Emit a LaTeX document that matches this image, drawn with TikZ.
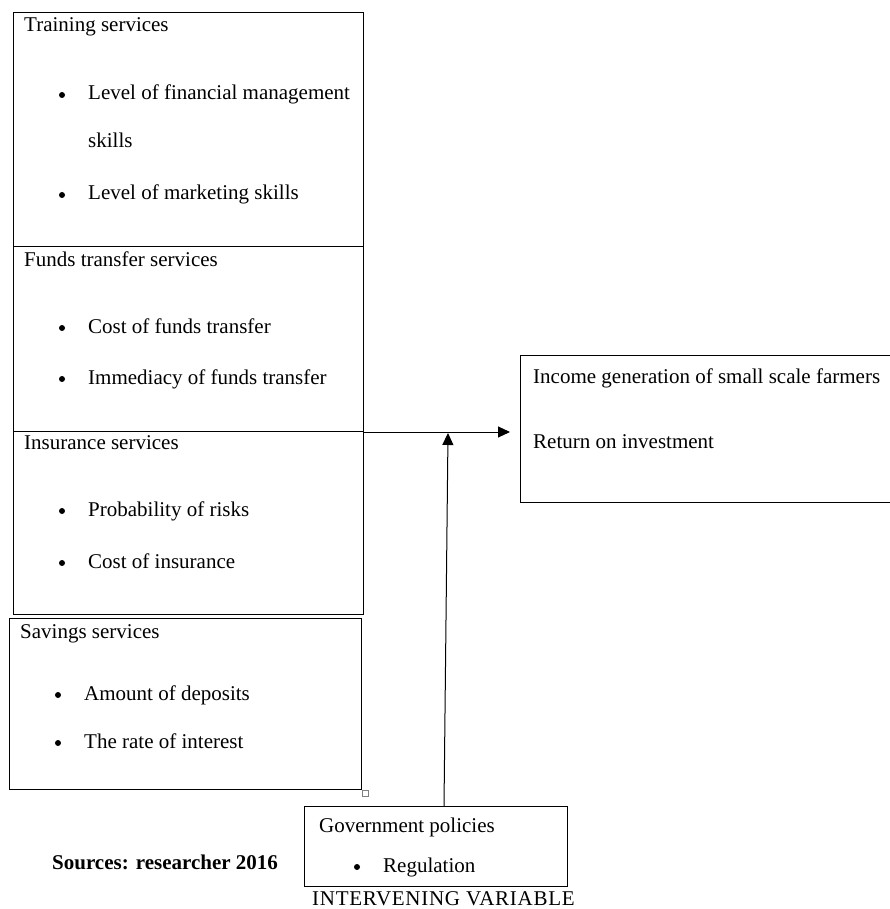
\documentclass[tikz,border=0pt]{standalone}
\usepackage{fontspec}
\setmainfont{Liberation Serif}
\usetikzlibrary{arrows.meta}

\begin{document}
\begin{tikzpicture}[x=1pt,y=-1pt,
    box/.style={draw, line width=1pt, anchor=north west, inner sep=0pt},
    txt/.style={anchor=base west, inner sep=0pt, font=\fontsize{21}{24}\selectfont},
    dot/.style={circle, fill, inner sep=0pt, minimum size=6pt},
    arr/.style={line width=1pt, -{Triangle[length=12pt,width=11pt]}}]
    \useasboundingbox (0,0) rectangle (890,909);
    % independent variables
    \node[box, minimum width=350pt, minimum height=234pt] (train) at (13,12) {};
    \node[box, minimum width=350pt, minimum height=185pt] (funds) at (13,246) {};
    \node[box, minimum width=350pt, minimum height=183pt] (insur) at (13,431) {};
    \node[box, minimum width=352pt, minimum height=171pt] (save) at (9,618) {};
    \node[draw, gray, inner sep=0pt, minimum size=6pt] (handle) at (365,793) {};
    % dependent variable
    \node[box, minimum width=375pt, minimum height=147pt] (income) at (520,355) {};
    % intervening variable
    \node[box, minimum width=263pt, minimum height=80pt] (gov) at (304,806) {};

    \node[txt] (t1) at (24,32) {Training services};
    \node[dot] (d1) at (62,95) {};
    \node[txt] (t2) at (88,100) {Level of financial management};
    \node[txt] (t3) at (88,148) {skills};
    \node[dot] (d2) at (62,195) {};
    \node[txt] (t4) at (88,200) {Level of marketing skills};

    \node[txt] (f1) at (24,266) {Funds transfer services};
    \node[dot] (d3) at (62,328) {};
    \node[txt] (f2) at (88,333) {Cost of funds transfer};
    \node[dot] (d4) at (62,379) {};
    \node[txt] (f3) at (88,384) {Immediacy of funds transfer};

    \node[txt] (i1) at (24,449) {Insurance services};
    \node[dot] (d5) at (62,511) {};
    \node[txt] (i2) at (88,516) {Probability of risks};
    \node[dot] (d6) at (62,563) {};
    \node[txt] (i3) at (88,568) {Cost of insurance};

    \node[txt] (s1) at (20,638) {Savings services};
    \node[dot] (d7) at (58,695) {};
    \node[txt] (s2) at (84,700) {Amount of deposits};
    \node[dot] (d8) at (58,743) {};
    \node[txt] (s3) at (84,748) {The rate of interest};

    \node[txt] (r1) at (533,383) {Income generation of small scale farmers};
    \node[txt] (r2) at (533,448) {Return on investment};

    \node[txt] (g1) at (319,832) {Government policies};
    \node[dot] (d9) at (357,867) {};
    \node[txt] (g2) at (383,872) {Regulation};

    \node[txt, font=\bfseries\fontsize{21}{24}\selectfont] (src) at (52,869) {Sources: researcher 2016};
    \node[txt, font=\addfontfeatures{LetterSpace=3.5}\fontsize{21}{24}\selectfont] (iv) at (312,905) {INTERVENING VARIABLE};

    % connectors
    \coordinate (tip) at (510,432);
    \coordinate (meet) at (448,433);
    \draw[arr] (funds.south east) -- (tip);
    \draw[arr] ([xshift=-4pt]gov.north -| meet) -- (meet);
\end{tikzpicture}
\end{document}
